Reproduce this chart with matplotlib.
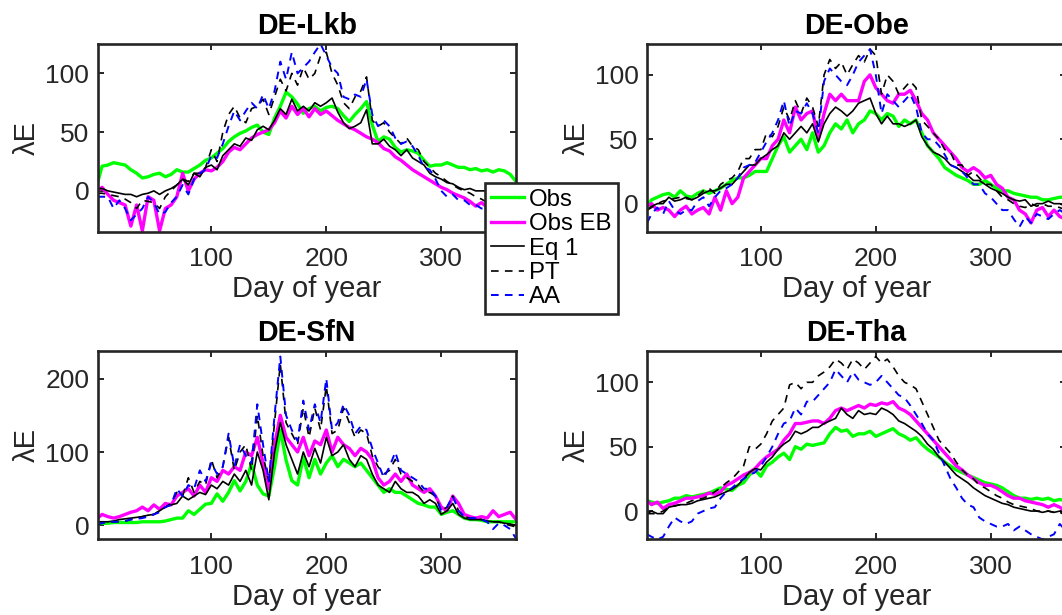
#!/usr/bin/env python3
"""Seasonal course of latent heat flux (lambda E) at four German sites."""

from pathlib import Path

import matplotlib

matplotlib.use("Agg")
import matplotlib.pyplot as plt

# day of year, sampled every 5 days
DAYS = [1] + list(range(5, 366, 5))

SITES = ["DE-Lkb", "DE-Obe", "DE-SfN", "DE-Tha"]
SERIES_LABELS = ["Obs", "Obs EB", "Eq 1", "PT", "AA"]

# ---- DE-Lkb ----
LKB_OBS = [7, 21, 22, 24, 23, 22, 18, 15, 11, 12,
           14, 15, 12, 14, 18, 16, 16, 19, 22, 26,
           28, 32, 36, 42, 46, 49, 51, 54, 56, 50,
           48, 62, 72, 84, 80, 74, 66, 70, 72, 68,
           71, 72, 70, 64, 59, 65, 70, 76, 56, 42,
           46, 44, 37, 33, 35, 34, 32, 26, 21, 22,
           22, 24, 22, 20, 20, 18, 19, 17, 18, 16,
           18, 17, 14, 8]
LKB_OBS_EB = [0, 3, -3, -8, -10, -12, -30, -12, -34, -5,
              -8, -34, -15, -12, -5, 15, 0, 10, 15, 18,
              17, 20, 25, 33, 37, 35, 40, 45, 48, 50,
              52, 58, 68, 62, 72, 65, 70, 63, 70, 65,
              68, 64, 60, 57, 54, 52, 49, 46, 44, 41,
              36, 34, 29, 26, 22, 18, 15, 12, 9, 6,
              3, 1, -2, -4, -6, -9, -13, -10, -14, -11,
              -12, -13, -10, -12]
LKB_EQ1 = [2, 2, 0, -1, -2, -3, -3, -5, -3, -2,
           0, -3, 0, 2, 5, 10, 5, 15, 12, 20,
           22, 18, 30, 35, 40, 38, 45, 43, 52, 55,
           52, 60, 70, 65, 78, 68, 72, 68, 75, 72,
           75, 79, 67, 58, 53, 55, 58, 69, 40, 40,
           44, 38, 35, 30, 35, 28, 25, 22, 15, 12,
           10, 7, 6, 3, 1, 2, 0, 0, 0, -1,
           -1, -2, -1, -2]
LKB_PT = [-2, -2, -3, -4, -5, -7, -10, -15, -8, -9,
          -10, -15, -5, 0, 5, 10, 8, 15, 15, 20,
          35, 25, 50, 65, 72, 62, 58, 70, 72, 78,
          65, 80, 95, 85, 100, 90, 105, 95, 100, 115,
          118, 100, 90, 75, 70, 80, 85, 97, 60, 55,
          58, 50, 45, 40, 45, 38, 35, 25, 20, 15,
          12, 8, 5, 2, 0, -2, -5, -7, -10, -10,
          -11, -12, -10, -12]
LKB_AA = [-5, -5, -5, -15, -8, -15, -25, -20, -15, -5,
          -10, -20, -18, -10, -5, 5, -3, 10, 15, 18,
          30, 28, 40, 55, 68, 60, 68, 75, 70, 82,
          70, 85, 110, 95, 118, 100, 105, 110, 118, 125,
          115, 105, 100, 80, 78, 82, 80, 95, 65, 55,
          60, 55, 45, 40, 42, 38, 30, 20, 18, 10,
          0, -5, -3, -8, -8, -12, -12, -15, -15, -12,
          -15, -13, -12, -14]

# ---- DE-Obe ----
OBE_OBS = [-2, 3, 5, 7, 8, 5, 10, 6, 5, 8,
           10, 8, 10, 12, 15, 18, 20, 20, 22, 25,
           25, 25, 35, 45, 52, 40, 45, 50, 42, 55,
           40, 45, 55, 62, 58, 65, 55, 62, 65, 72,
           70, 65, 70, 68, 60, 65, 62, 65, 55, 45,
           40, 35, 28, 25, 22, 20, 18, 15, 15, 18,
           15, 12, 10, 10, 8, 7, 6, 5, 5, 3,
           3, 4, 5, 5]
OBE_OBS_EB = [-2, 0, -5, -3, -5, -10, -5, -2, -8, -5,
              -3, -8, 5, -5, 10, 0, 5, 20, 25, 30,
              35, 35, 45, 50, 65, 55, 75, 65, 70, 72,
              50, 70, 85, 80, 85, 80, 80, 80, 95, 100,
              90, 85, 80, 78, 85, 85, 88, 80, 70, 65,
              55, 50, 45, 40, 35, 28, 25, 28, 25, 20,
              22, 15, 12, 5, 3, -5, -8, -15, -5, -3,
              -10, -5, -10, -12]
OBE_EQ1 = [-5, -2, 0, 0, 5, 2, 3, 5, 3, 5,
           8, 10, 10, 12, 15, 15, 20, 25, 30, 30,
           35, 38, 42, 45, 55, 50, 55, 60, 55, 62,
           48, 62, 70, 75, 72, 68, 72, 78, 80, 82,
           70, 62, 68, 62, 62, 60, 62, 65, 52, 45,
           40, 38, 35, 30, 28, 25, 22, 18, 18, 15,
           12, 10, 8, 5, 3, 2, 3, -2, 0, 0,
           2, 0, 0, -2]
OBE_PT = [-5, -3, 0, 2, 3, 4, 5, 4, 3, 6,
          10, 12, 8, 15, 18, 20, 25, 35, 35, 42,
          42, 55, 52, 60, 75, 65, 80, 70, 82, 75,
          60, 100, 112, 105, 110, 100, 108, 115, 110, 120,
          115, 85, 100, 95, 85, 90, 95, 90, 65, 60,
          55, 50, 42, 40, 30, 30, 22, 25, 20, 15,
          15, 10, 5, 3, 0, -2, -3, 0, -2, 0,
          -2, -2, -3, -5]
OBE_AA = [-15, -8, -3, -8, 2, -5, -8, -5, -5, 2,
          5, -2, 5, 10, 12, 15, 20, 28, 30, 32,
          40, 48, 55, 65, 80, 60, 72, 70, 78, 70,
          55, 95, 105, 100, 95, 92, 100, 110, 115, 120,
          100, 70, 85, 80, 75, 80, 85, 75, 55, 50,
          50, 45, 38, 30, 28, 25, 20, 15, 15, 8,
          5, 0, -5, -5, -12, -18, -10, -15, -8, -10,
          -12, -8, -5, -8]

# ---- DE-SfN ----
SFN_OBS = [2, 3, 3, 4, 4, 4, 4, 4, 5, 5,
           5, 5, 6, 8, 10, 10, 20, 15, 22, 29,
           30, 43, 33, 45, 61, 47, 60, 84, 55, 43,
           40, 80, 130, 89, 61, 55, 93, 65, 90, 70,
           85, 95, 80, 90, 85, 80, 85, 75, 65, 55,
           45, 50, 45, 45, 40, 35, 30, 28, 25, 25,
           15, 18, 20, 15, 10, 8, 8, 7, 5, 5,
           5, 5, 5, 5]
SFN_OBS_EB = [10, 15, 12, 10, 12, 15, 18, 20, 25, 20,
              28, 22, 30, 28, 40, 45, 50, 40, 55, 45,
              65, 60, 75, 70, 80, 75, 100, 95, 120, 85,
              50, 110, 150, 120, 110, 100, 120, 95, 115, 110,
              130, 100, 120, 110, 105, 95, 105, 100, 90, 65,
              55, 60, 70, 60, 70, 55, 50, 45, 50, 40,
              25, 20, 40, 30, 15, 12, 10, 12, 10, 20,
              12, 15, 18, 8]
SFN_EQ1 = [5, 5, 5, 6, 8, 9, 10, 11, 12, 14,
           15, 20, 25, 28, 30, 40, 35, 40, 45, 42,
           55, 50, 60, 55, 70, 60, 75, 55, 100, 75,
           35, 100, 140, 110, 90, 70, 100, 80, 105, 85,
           120, 95, 100, 110, 90, 80, 95, 90, 70, 55,
           50, 45, 60, 50, 45, 45, 40, 30, 35, 30,
           15, 20, 30, 15, 10, 8, 8, 8, 6, 5,
           5, 3, 2, 0]
SFN_PT = [2, 3, 5, 5, 5, 6, 8, 10, 12, 14,
          15, 20, 25, 30, 45, 40, 65, 45, 60, 55,
          90, 65, 80, 120, 75, 100, 110, 75, 150, 95,
          60, 140, 220, 140, 125, 110, 160, 120, 160, 130,
          190, 125, 130, 160, 140, 120, 130, 125, 95, 80,
          70, 75, 90, 70, 65, 60, 55, 45, 45, 40,
          20, 25, 40, 20, 12, 10, 10, 8, 5, 5,
          5, 2, 0, -2]
SFN_AA = [2, 3, 5, 5, 5, 6, 8, 9, 10, 12,
          15, 18, 25, 28, 50, 40, 55, 50, 75, 60,
          85, 70, 80, 125, 80, 110, 95, 85, 165, 110,
          60, 150, 230, 150, 130, 115, 170, 130, 165, 140,
          200, 130, 140, 165, 150, 125, 135, 130, 105, 85,
          65, 80, 100, 75, 70, 65, 60, 50, 50, 40,
          20, 25, 40, 20, 12, 10, 10, 8, 5, -5,
          3, 0, -5, -18]

# ---- DE-Tha ----
THA_OBS = [8, 7, 6, 7, 8, 10, 10, 12, 11, 12,
           13, 14, 16, 18, 17, 16, 20, 22, 28, 32,
           27, 35, 38, 42, 45, 40, 50, 48, 52, 51,
           52, 53, 60, 65, 62, 63, 58, 60, 60, 62,
           58, 60, 62, 64, 60, 58, 55, 57, 52, 48,
           45, 42, 38, 35, 32, 30, 28, 26, 24, 22,
           21, 20, 18, 15, 12, 10, 10, 9, 10, 9,
           10, 8, 9, 8]
THA_OBS_EB = [8, 5, 7, 2, 5, 6, 8, 10, 10, 11,
              12, 14, 13, 15, 20, 22, 25, 28, 30, 33,
              38, 42, 45, 48, 55, 60, 68, 68, 69, 70,
              70, 68, 72, 78, 80, 78, 80, 82, 80, 83,
              82, 84, 83, 85, 80, 78, 75, 70, 65, 60,
              55, 50, 45, 40, 35, 32, 28, 25, 22, 20,
              20, 18, 15, 12, 10, 10, 8, 7, 6, 5,
              3, 5, 3, 0]
THA_EQ1 = [-2, 0, -2, -2, 3, 4, 5, 5, 6, 8,
           9, 10, 11, 13, 15, 17, 20, 25, 30, 33,
           32, 38, 42, 48, 52, 55, 62, 60, 62, 65,
           65, 68, 70, 72, 80, 75, 72, 78, 75, 76,
           75, 80, 78, 75, 70, 68, 65, 62, 58, 52,
           48, 42, 38, 33, 28, 25, 22, 18, 15, 12,
           10, 8, 6, 5, 3, 2, 1, 0, 0, -1,
           0, -1, 0, -2]
THA_PT = [-2, -2, -2, 0, 3, 4, 5, 6, 8, 9,
          10, 12, 15, 18, 22, 25, 30, 35, 50, 48,
          52, 60, 70, 75, 80, 98, 100, 95, 100, 100,
          105, 108, 112, 118, 115, 110, 118, 115, 110, 115,
          120, 115, 118, 112, 105, 100, 98, 95, 85, 75,
          65, 55, 50, 45, 38, 32, 28, 25, 20, 18,
          15, 12, 10, 7, 5, 4, 3, 2, 0, 0,
          0, -1, -1, -3]
THA_AA = [-18, -20, -22, -20, -12, -5, -8, -10, -8, -2,
          0, 2, 3, 10, 15, 18, 22, 25, 28, 30,
          35, 42, 50, 60, 68, 70, 80, 75, 85, 85,
          90, 95, 100, 110, 105, 100, 108, 102, 100, 98,
          100, 105, 100, 95, 90, 88, 82, 75, 68, 60,
          55, 45, 35, 25, 18, 10, 5, 3, -5, -8,
          -10, -12, -12, -10, -15, -12, -15, -18, -20, -22,
          -20, -18, -10, -15]

SITE_DATA = {
    "DE-Lkb": [LKB_OBS, LKB_OBS_EB, LKB_EQ1, LKB_PT, LKB_AA],
    "DE-Obe": [OBE_OBS, OBE_OBS_EB, OBE_EQ1, OBE_PT, OBE_AA],
    "DE-SfN": [SFN_OBS, SFN_OBS_EB, SFN_EQ1, SFN_PT, SFN_AA],
    "DE-Tha": [THA_OBS, THA_OBS_EB, THA_EQ1, THA_PT, THA_AA],
}

FONT = ["Liberation Sans", "DejaVu Sans"]
INK = "#262626"


def save_figure(output_path: Path) -> Path:
    plt.rcParams["font.family"] = FONT
    plt.rcParams["lines.scale_dashes"] = False

    fig = plt.figure(figsize=(10.62, 6.15), dpi=100)
    fig.patch.set_facecolor("white")

    W, H = 1062.0, 615.0
    lefts = [97.5, 647.0]
    bottoms = [232.0, 539.4]
    ax_w, ax_h = 418.5, 188.0
    ylims = {"DE-Lkb": (-35, 125), "DE-Obe": (-22, 124), "DE-SfN": (-19, 237), "DE-Tha": (-22, 124)}
    yticks = {"DE-Lkb": [0, 50, 100], "DE-Obe": [0, 50, 100], "DE-SfN": [0, 100, 200], "DE-Tha": [0, 50, 100]}

    styles = [
        dict(color="#00ff00", lw=2.4, ls="-"),
        dict(color="#ff00ff", lw=2.4, ls="-"),
        dict(color="black", lw=1.2, ls="-"),
        dict(color="black", lw=1.2, ls=(0, (5.5, 4.5))),
        dict(color="#0000ff", lw=1.4, ls=(0, (5.5, 4.5))),
    ]

    handles = []
    for i, site in enumerate(SITES):
        row, col = divmod(i, 2)
        ax = fig.add_axes([lefts[col] / W, 1 - bottoms[row] / H, ax_w / W, ax_h / H])
        for values, label, style in zip(SITE_DATA[site], SERIES_LABELS, styles):
            (line,) = ax.plot(DAYS, values, label=label, **style)
            if i == 0:
                handles.append(line)

        ax.set_xlim(1, 365)
        ax.set_ylim(*ylims[site])
        ax.set_xticks([100, 200, 300])
        ax.set_yticks(yticks[site])
        ax.tick_params(direction="in", top=True, right=True, length=4.5, width=1.4,
                       colors=INK, labelsize=19)
        ax.tick_params(axis="x", pad=11)
        ax.tick_params(axis="y", pad=6)
        for spine in ax.spines.values():
            spine.set_linewidth(1.9)
            spine.set_color(INK)

        ax.set_title(site, fontsize=20.6, fontweight="bold", color="black", pad=7.5)
        ax.set_xlabel("Day of year", fontsize=21, color=INK, labelpad=3)
        ax.set_ylabel("λE", fontsize=21, color=INK, labelpad=3)

    legend = fig.legend(
        handles,
        SERIES_LABELS,
        loc="upper left",
        bbox_to_anchor=(484.7 / W, 1 - 182.7 / H),
        bbox_transform=fig.transFigure,
        borderaxespad=0,
        fontsize=17.3,
        frameon=True,
        fancybox=False,
        edgecolor=INK,
        framealpha=1,
        handlelength=1.4,
        handletextpad=0.2,
        labelspacing=0.1,
        borderpad=0.25,
    )
    legend.get_frame().set_linewidth(1.9)

    fig.savefig(output_path, dpi=100)
    plt.close(fig)
    return output_path


def main() -> None:
    save_figure(Path("out.png"))


if __name__ == "__main__":
    main()
